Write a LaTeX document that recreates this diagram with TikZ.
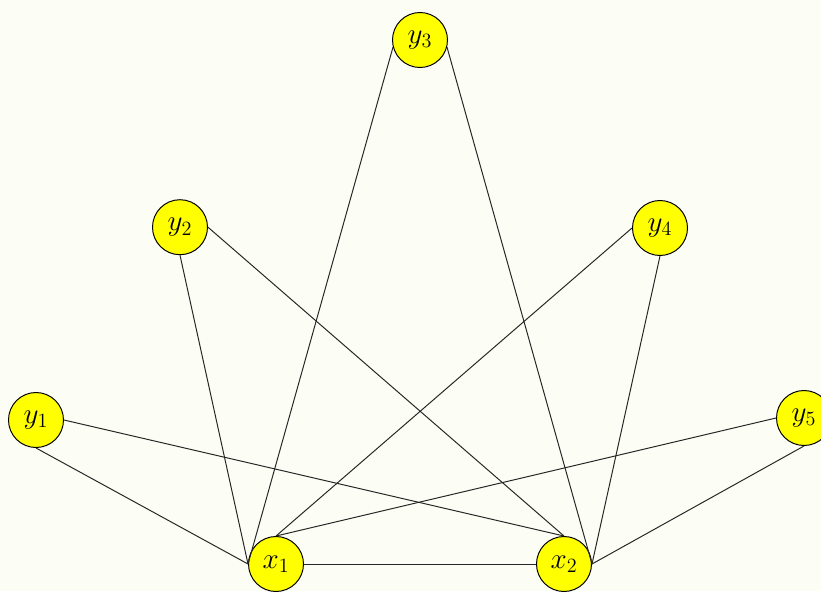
\documentclass[tikz,border=0pt]{standalone}
\usetikzlibrary{positioning}
\definecolor{PageColor}{HTML}{FCFDF5}
\definecolor{VertexColor}{HTML}{FFFF00}

\begin{document}
\begin{tikzpicture}[
        vertex/.style={circle, draw=black, fill=VertexColor, line width=0.7pt, minimum size=1.375cm, inner sep=0pt, font=\fontsize{20}{24}\selectfont},
        edge/.style={line width=0.7pt, black!85}
      ]
        % Page
        \fill[PageColor] (0,0) rectangle (20.525,-14.775);
        \useasboundingbox (0,0) rectangle (20.525,-14.775);

        % Nodes
        \node[vertex] (x1) at (6.9,-14.1) {$x_1$};
        \node[vertex] (x2) at (14.1,-14.1) {$x_2$};
        \node[vertex] (y1) at (0.9,-10.5) {$y_1$};
        \node[vertex] (y2) at (4.5,-5.68) {$y_2$};
        \node[vertex] (y3) at (10.5,-1.0) {$y_3$};
        \node[vertex] (y4) at (16.5,-5.7) {$y_4$};
        \node[vertex] (y5) at (20.1,-10.45) {$y_5$};

        % Edges
        \draw[edge] (x1.east) -- (x2.west);
        \draw[edge] (y1.south) -- (x1.west);
        \draw[edge] (y2.south) -- (x1.west);
        \draw[edge] (y3.195) -- (x1.west);
        \draw[edge] (y4.west) -- (x1.north);
        \draw[edge] (y5.west) -- (x1.north);
        \draw[edge] (y1.east) -- (x2.north);
        \draw[edge] (y2.east) -- (x2.north);
        \draw[edge] (y3.-15) -- (x2.east);
        \draw[edge] (y4.south) -- (x2.east);
        \draw[edge] (y5.south) -- (x2.east);
      \end{tikzpicture}
\end{document}
